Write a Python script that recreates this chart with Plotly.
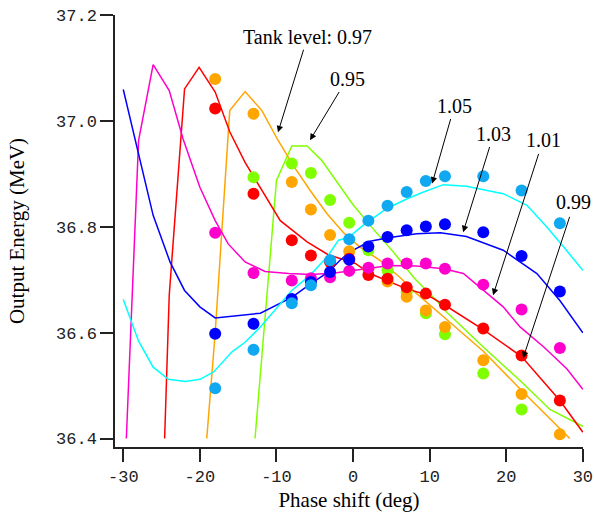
import plotly.graph_objects as go

# Measured points (phase shift positions shared by all tank levels)
meas_x = [-18, -13, -8, -5.5, -3, -0.5, 2, 4.5, 7, 9.5, 12, 17, 22, 27]
meas_095_x = [-13, -8, -5.5, -3, -0.5, 2, 4.5, 7, 9.5, 12, 17, 22]
meas_095_y = [36.894, 36.920, 36.902, 36.851, 36.808, 36.756, 36.718, 36.677, 36.637, 36.597, 36.523, 36.455]
meas_097_y = [37.080, 37.014, 36.885, 36.833, 36.785, 36.754, 36.720, 36.697, 36.668, 36.642, 36.611, 36.548, 36.484, 36.408]
meas_099_y = [37.024, 36.863, 36.775, 36.746, 36.734, 36.740, 36.709, 36.702, 36.686, 36.674, 36.653, 36.608, 36.557, 36.472]
meas_101_y = [36.789, 36.713, 36.699, 36.703, 36.705, 36.717, 36.723, 36.731, 36.731, 36.731, 36.721, 36.691, 36.644, 36.571]
meas_103_y = [36.598, 36.617, 36.664, 36.696, 36.715, 36.738, 36.763, 36.781, 36.794, 36.801, 36.805, 36.790, 36.745, 36.678]
meas_105_y = [36.495, 36.568, 36.656, 36.690, 36.737, 36.777, 36.812, 36.840, 36.866, 36.887, 36.896, 36.896, 36.869, 36.807]

# Simulation curves
sim_095_x = [-12.8, -10.8, -10.0, -8.0, -6.0, -4.1, -2.1, 0.0, 2.7, 5.3, 8.0, 10.9, 12.0, 17.0, 22.0, 25.7, 30.0]
sim_095_y = [36.400, 36.740, 36.888, 36.953, 36.953, 36.926, 36.885, 36.842, 36.795, 36.752, 36.703, 36.661, 36.642, 36.573, 36.507, 36.455, 36.423]
sim_097_x = [-19.1, -18.0, -16.1, -14.1, -11.9, -9.8, -7.8, -5.6, -3.4, -1.3, 0.9, 3.5, 6.1, 8.3, 12.0, 17.0, 22.0, 25.7, 28.3]
sim_097_y = [36.400, 36.600, 37.020, 37.056, 37.020, 36.964, 36.916, 36.869, 36.825, 36.790, 36.762, 36.737, 36.705, 36.674, 36.628, 36.565, 36.491, 36.438, 36.400]
sim_099_x = [-24.6, -24.0, -22.0, -20.1, -18.0, -16.1, -14.1, -12.0, -9.5, -6.0, -3.3, -1.0, 0.3, 2.2, 4.8, 7.0, 9.6, 12.0, 17.0, 22.0, 27.0, 30.0]
sim_099_y = [36.400, 36.671, 37.061, 37.102, 37.055, 36.980, 36.922, 36.872, 36.812, 36.772, 36.748, 36.737, 36.731, 36.712, 36.697, 36.683, 36.672, 36.652, 36.606, 36.555, 36.472, 36.412]
sim_101_x = [-29.6, -28.0, -26.1, -24.0, -22.2, -20.0, -18.0, -16.3, -14.1, -11.5, -8.4, -5.4, -2.4, 0.3, 4.8, 8.3, 11.8, 14.4, 17.5, 19.6, 21.8, 24.9, 27.9, 30.0]
sim_101_y = [36.400, 36.964, 37.107, 37.058, 36.967, 36.875, 36.812, 36.768, 36.734, 36.716, 36.712, 36.710, 36.713, 36.718, 36.727, 36.726, 36.721, 36.712, 36.674, 36.649, 36.611, 36.573, 36.532, 36.493]
sim_103_x = [-30.0, -26.1, -23.9, -22.0, -20.0, -18.0, -12.1, -8.0, -5.6, -3.2, -1.7, -0.4, 2.2, 4.8, 8.3, 11.4, 14.8, 19.6, 24.0, 27.0, 30.0]
sim_103_y = [37.060, 36.822, 36.734, 36.680, 36.649, 36.628, 36.637, 36.667, 36.692, 36.715, 36.737, 36.753, 36.773, 36.780, 36.787, 36.789, 36.782, 36.756, 36.712, 36.661, 36.600]
sim_105_x = [-30.0, -28.0, -26.1, -24.1, -21.9, -20.0, -18.2, -15.8, -14.1, -12.1, -8.0, -5.6, -3.4, -1.9, -0.6, 1.3, 4.4, 7.0, 9.2, 11.8, 14.8, 16.6, 19.6, 22.7, 25.3, 27.5, 30.0]
sim_105_y = [36.663, 36.584, 36.535, 36.512, 36.508, 36.512, 36.526, 36.564, 36.582, 36.611, 36.680, 36.709, 36.743, 36.775, 36.780, 36.803, 36.835, 36.853, 36.866, 36.880, 36.877, 36.872, 36.863, 36.841, 36.800, 36.762, 36.718]

labels = ["Tank level: 0.97", "0.95", "1.05", "1.03", "1.01", "0.99"]
label_x = [-5.95, -0.72, 13.28, 18.38, 24.86, 28.75]
label_y = [37.159, 37.080, 37.028, 36.976, 36.964, 36.847]
arrow_tail_x = [-6.40, -1.70, 12.80, 17.89, 24.29, 28.34]
arrow_tail_y = [37.138, 37.058, 37.007, 36.954, 36.941, 36.822]
arrow_tip_x = [-9.80, -5.62, 10.32, 14.37, 18.28, 22.20]
arrow_tip_y = [36.979, 36.964, 36.882, 36.790, 36.671, 36.552]

x_ticks = [-30, -20, -10, 0, 10, 20, 30]
y_ticks = [36.4, 36.6, 36.8, 37.0, 37.2]

c095 = "#80FF00"
c097 = "#FFA500"
c099 = "#FF0000"
c101 = "#FF00CC"
c103 = "#0000FF"
c105_line = "#00FFFF"
c105_pt = "#10A8F0"

fig = go.Figure()
for xs, ys, col in [(sim_095_x, sim_095_y, c095), (sim_097_x, sim_097_y, c097),
                    (sim_099_x, sim_099_y, c099), (sim_101_x, sim_101_y, c101),
                    (sim_103_x, sim_103_y, c103), (sim_105_x, sim_105_y, c105_line)]:
    fig.add_trace(go.Scatter(x=xs, y=ys, mode="lines", line=dict(color=col, width=1.5),
                             showlegend=False, hoverinfo="skip"))

for xs, ys, col in [(meas_095_x, meas_095_y, c095), (meas_x, meas_097_y, c097),
                    (meas_x, meas_099_y, c099), (meas_x, meas_101_y, c101),
                    (meas_x, meas_103_y, c103), (meas_x, meas_105_y, c105_pt)]:
    fig.add_trace(go.Scatter(x=xs, y=ys, mode="markers",
                             marker=dict(color=col, size=12, line=dict(width=0)),
                             showlegend=False, hoverinfo="skip"))

serif = "Liberation Serif, Times New Roman, serif"
mono = "Liberation Mono, Courier New, monospace"

for t, tx, ty in zip(labels, label_x, label_y):
    fig.add_annotation(x=tx, y=ty, xref="x", yref="y", text=t, showarrow=False,
                       font=dict(family=serif, size=20, color="black"))
for hx, hy, tx, ty in zip(arrow_tip_x, arrow_tip_y, arrow_tail_x, arrow_tail_y):
    fig.add_annotation(x=hx, y=hy, xref="x", yref="y", ax=tx, ay=ty, axref="x", ayref="y",
                       text="", showarrow=True, arrowhead=2, arrowsize=1.3, arrowwidth=1,
                       arrowcolor="black", standoff=0, startstandoff=0)

fig.update_layout(
    width=594, height=515,
    margin=dict(l=115, r=11, t=15, b=68, autoexpand=False),
    paper_bgcolor="white", plot_bgcolor="white",
    showlegend=False,
)
fig.update_xaxes(
    range=[-31.08, 30.02], tickvals=x_ticks, ticktext=[str(v) for v in x_ticks],
    showgrid=False, zeroline=False, showline=True, linecolor="#222", linewidth=1.5,
    ticks="outside", ticklen=13, tickwidth=1.5, tickcolor="#222", automargin=False,
    tickfont=dict(family=mono, size=17, color="#222"),
    title=dict(text="Phase shift (deg)", font=dict(family=serif, size=21, color="black"), standoff=6),
)
fig.update_yaxes(
    range=[36.384, 37.2008], tickvals=y_ticks, ticktext=["%.1f" % v for v in y_ticks],
    showgrid=False, zeroline=False, showline=True, linecolor="#222", linewidth=1.5,
    ticks="outside", ticklen=13, tickwidth=1.5, tickcolor="#222", automargin=False,
    tickfont=dict(family=mono, size=17, color="#222"),
    title=dict(text="Output Energy (MeV)", font=dict(family=serif, size=21, color="black"), standoff=26),
)

fig.write_html("out.html", config={"displayModeBar": False},
               post_script="document.body.style.margin='0';document.body.style.overflow='hidden';")
